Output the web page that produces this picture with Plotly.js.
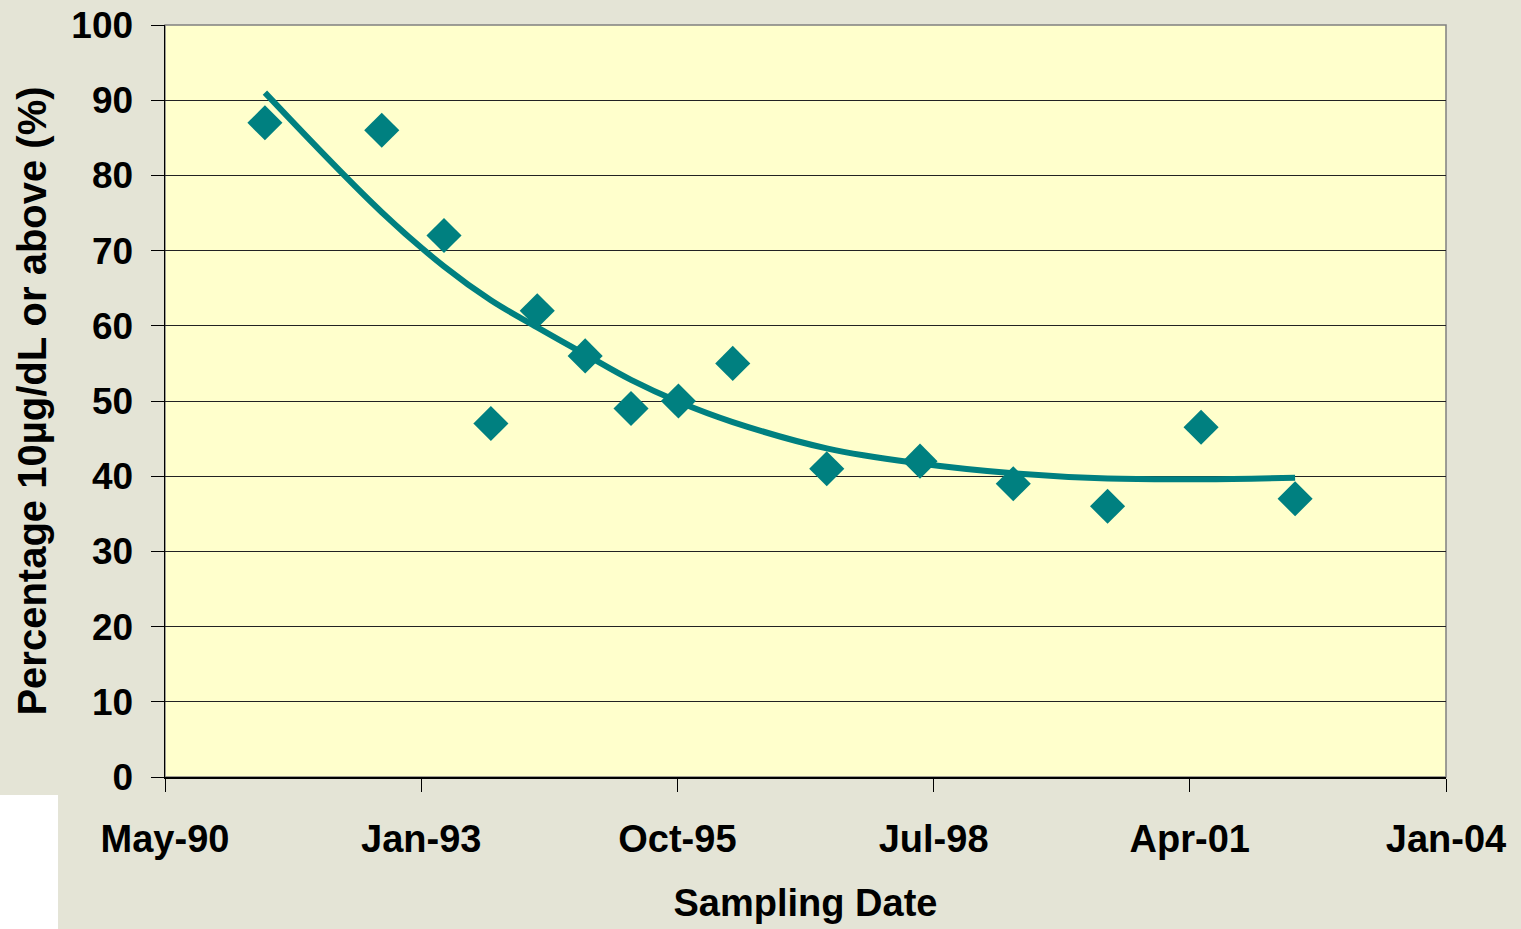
<!DOCTYPE html>
<html>
<head>
<meta charset="utf-8">
<script src="https://cdn.plot.ly/plotly-3.0.1.min.js"></script>
<style>
  html, body { margin: 0; padding: 0; background: #e4e4d6; }
  #chart { width: 1521px; height: 929px; }
</style>
</head>
<body>
<div id="chart"></div>
<script>
// Sampling dates and percentages
const sampleDates = ['1991-05-26','1992-08-24','1993-04-24','1993-10-24','1994-04-23','1994-10-27',
  '1995-04-24','1995-10-26','1996-05-25','1997-05-27','1998-05-26','1999-05-25','2000-05-27',
  '2001-05-27','2002-05-29'];
const percentAbove = [87, 86, 72, 47, 62, 56, 49, 50, 55, 41, 42, 39, 36, 46.5, 37];
// Trend line values at the same dates
const trendValues = [91, 75.1, 67.9, 63.4, 59.8, 56.2, 52.8, 49.9, 47.2, 43.7, 41.7, 40.4, 39.7, 39.6, 39.8];
// Axis ticks
const xTickVals = ['1990-05-01','1993-01-25','1995-10-22','1998-07-18','2001-04-13','2004-01-08'];
const xTickText = ['May-90','Jan-93','Oct-95','Jul-98','Apr-01','Jan-04'];
const yTickVals = [0,10,20,30,40,50,60,70,80,90,100];

const teal = '#008080';
const fontFam = '"Liberation Sans", Arial, sans-serif';

const traces = [
  {
    x: sampleDates, y: trendValues, type: 'scatter', mode: 'lines',
    line: {color: teal, width: 6, shape: 'spline', smoothing: 1.1},
    hoverinfo: 'skip', showlegend: false
  },
  {
    x: sampleDates, y: percentAbove, type: 'scatter', mode: 'markers',
    marker: {symbol: 'diamond', size: 27, color: teal, line: {width: 0}},
    showlegend: false
  }
];

const layout = {
  width: 1521, height: 929,
  margin: {l: 165, r: 75, t: 25, b: 152},
  paper_bgcolor: '#e4e4d6',
  plot_bgcolor: '#ffffcc',
  showlegend: false,
  xaxis: {
    type: 'date',
    range: [xTickVals[0], xTickVals[xTickVals.length - 1]],
    tickvals: xTickVals, ticktext: xTickText,
    ticks: 'outside', ticklen: 13, tickcolor: '#000', tickwidth: 1,
    ticklabelstandoff: 15,
    showgrid: false, zeroline: false,
    showline: true, linecolor: '#000', linewidth: 1.5,
    tickfont: {family: fontFam, size: 38, color: '#000', weight: 'bold'},
    title: {text: 'Sampling Date', standoff: 30,
      font: {family: fontFam, size: 38, color: '#000', weight: 'bold'}},
    automargin: false
  },
  yaxis: {
    range: [0, 100],
    tickvals: yTickVals,
    ticks: 'outside', ticklen: 13, tickcolor: '#000', tickwidth: 1,
    ticklabelstandoff: 10,
    showgrid: true, gridcolor: '#222', gridwidth: 1,
    zeroline: false,
    showline: true, linecolor: '#000', linewidth: 1.5,
    tickfont: {family: fontFam, size: 37, color: '#000', weight: 'bold'},
    title: {text: 'Percentage 10µg/dL or above (%)', standoff: 12,
      font: {family: fontFam, size: 40, color: '#000', weight: 'bold'}},
    automargin: false
  },
  shapes: [
    {type: 'rect', xref: 'paper', yref: 'paper', x0: 0, x1: 1, y0: 0, y1: 1,
     line: {color: '#808080', width: 1.5}, fillcolor: 'rgba(0,0,0,0)', layer: 'below'},
    {type: 'rect', xref: 'paper', yref: 'paper', x0: -0.1288, x1: -0.0835, y0: -0.2021, y1: -0.0239,
     line: {width: 0}, fillcolor: '#ffffff', layer: 'above'}
  ]
};

Plotly.newPlot('chart', traces, layout, {displayModeBar: false, staticPlot: true});
</script>
</body>
</html>
